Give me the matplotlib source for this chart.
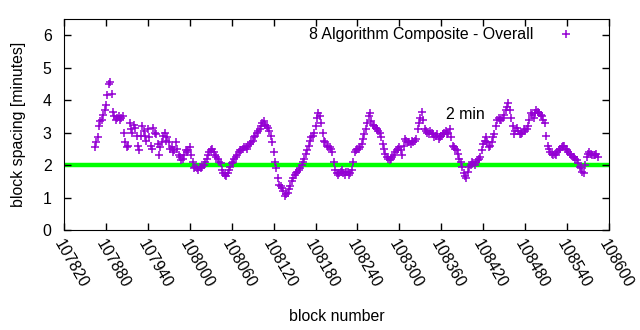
import numpy as np
import matplotlib.pyplot as plt

plt.rcParams['font.family'] = ['Liberation Sans', 'DejaVu Sans']

first_block = 107864
block_step = 4
spacing = [
    2.55, 2.85, 3.35, 3.55, 3.85, 4.5, 4.2, 3.5, 3.45, 3.4,
    3.5, 2.7, 2.6, 3.1, 3.25, 2.9, 2.45, 3.2, 2.9, 3.1,
    2.6, 3.15, 2.95, 2.3, 2.7, 3.0, 2.85, 2.5, 2.4, 2.7,
    2.3, 2.15, 2.3, 2.4, 2.55, 2.1, 1.95, 1.85, 1.9, 2.0,
    2.2, 2.4, 2.5, 2.3, 2.2, 2.05, 1.75, 1.65, 1.85, 2.05,
    2.2, 2.3, 2.45, 2.5, 2.55, 2.6, 2.7, 2.85, 3.0, 3.1,
    3.3, 3.25, 3.15, 2.9, 2.4, 1.9, 1.4, 1.3, 1.05, 1.15,
    1.35, 1.6, 1.75, 1.85, 2.0, 2.2, 2.45, 2.75, 2.9, 3.2,
    3.6, 3.3, 2.75, 2.6, 2.55, 2.4, 1.85, 1.7, 1.8, 1.75,
    1.8, 1.7, 1.85, 2.4, 2.5, 2.55, 2.8, 3.1, 3.5, 3.35,
    3.2, 3.1, 3.0, 2.65, 2.35, 2.2, 2.2, 2.3, 2.45, 2.55,
    2.3, 2.8, 2.7, 2.65, 2.7, 2.8, 3.3, 3.65, 3.1, 3.0,
    3.05, 2.95, 2.9, 2.8, 2.9, 3.0, 2.95, 3.1, 2.6, 2.5,
    2.35, 2.1, 1.75, 1.6, 1.95, 2.1, 2.0, 2.15, 2.25, 2.65,
    2.85, 2.55, 2.7, 2.95, 3.4, 3.4, 3.45, 3.7, 3.9, 3.45,
    2.95, 3.15, 2.95, 3.0, 3.05, 3.2, 3.6, 3.45, 3.7, 3.6,
    3.5, 3.3, 2.6, 2.4, 2.3, 2.3, 2.45, 2.55, 2.6, 2.45,
    2.35, 2.25, 2.2, 2.05, 1.9, 1.75, 2.25, 2.4, 2.3, 2.3,
    2.25,
]
# the blocks in between (2 blocks after each of the above)
spacing_mid = [
    2.7, 3.2, 3.4, 3.7, 4.15, 4.55, 3.65, 3.4, 3.5, 3.45,
    3.0, 2.55, 3.3, 3.0, 3.15, 2.6, 2.9, 3.05, 2.75, 2.85,
    2.5, 3.0, 2.65, 2.55, 2.9, 2.75, 2.7, 2.55, 2.45, 2.5,
    2.25, 2.2, 2.45, 2.45, 2.3, 1.9, 1.9, 1.95, 1.95, 2.1,
    2.3, 2.45, 2.4, 2.25, 2.1, 1.85, 1.7, 1.75, 1.95, 2.1,
    2.25, 2.4, 2.45, 2.55, 2.5, 2.65, 2.75, 2.9, 3.05, 3.2,
    3.35, 3.2, 3.05, 2.7, 2.1, 1.6, 1.35, 1.2, 1.1, 1.25,
    1.5, 1.7, 1.8, 1.9, 2.1, 2.35, 2.6, 2.85, 3.0, 3.45,
    3.5, 3.0, 2.7, 2.55, 2.5, 2.1, 1.75, 1.75, 1.85, 1.7,
    1.8, 1.75, 2.1, 2.45, 2.5, 2.65, 2.95, 3.3, 3.6, 3.25,
    3.15, 3.05, 2.85, 2.5, 2.25, 2.15, 2.25, 2.4, 2.5, 2.45,
    2.6, 2.75, 2.7, 2.75, 2.75, 3.1, 3.45, 3.4, 3.05, 2.95,
    3.0, 2.85, 2.95, 2.85, 2.95, 3.05, 3.0, 2.85, 2.55, 2.45,
    2.2, 1.95, 1.65, 1.8, 2.0, 2.05, 2.1, 2.2, 2.45, 2.75,
    2.7, 2.6, 2.85, 3.2, 3.45, 3.4, 3.55, 3.8, 3.7, 3.2,
    3.05, 3.05, 2.95, 3.1, 3.1, 3.4, 3.55, 3.6, 3.65, 3.55,
    3.4, 2.9, 2.5, 2.35, 2.35, 2.4, 2.5, 2.6, 2.5, 2.4,
    2.3, 2.25, 2.15, 1.95, 1.8, 2.0, 2.35, 2.35, 2.3, 2.35,
]
blocks = first_block + block_step * np.arange(len(spacing))
blocks_mid = first_block + block_step // 2 + block_step * np.arange(len(spacing_mid))

all_blocks = np.concatenate([blocks, blocks_mid])
all_spacing = np.concatenate([spacing, spacing_mid])

target = 2.0
xticks = list(range(107820, 108601, 60))
yticks = [0, 1, 2, 3, 4, 5, 6]
fs = 11.4

fig = plt.figure(figsize=(6.4, 3.3), dpi=100)
ax = fig.add_axes([0.1, 0.303, 0.8516, 0.6394])

ax.axhline(target, color='#00ff00', lw=3.2, zorder=1)
ax.plot(all_blocks, all_spacing, '+', color='#9400d3', ms=6, mew=1.1,
        label='8 Algorithm Composite - Overall', zorder=2)
ax.text(108394, 3.55, '2 min', ha='center', va='center', fontsize=fs)

ax.set_xlim(107820, 108600)
ax.set_ylim(0, 6.5)
ax.set_xticks(xticks)
ax.set_yticks(yticks)
ax.set_xticklabels([str(t) for t in xticks], rotation=-60, ha='left',
                   va='top', rotation_mode='anchor', fontsize=fs)
ax.tick_params(axis='y', labelsize=fs, pad=9)
ax.tick_params(axis='x', pad=5)
ax.tick_params(direction='in', top=True, right=True, length=5, width=1)
ax.set_xlabel('block number', fontsize=fs, labelpad=13)
ax.set_ylabel('block spacing [minutes]', fontsize=fs, labelpad=12)

leg = ax.legend(loc='upper right', frameon=False, markerfirst=False,
                fontsize=fs, handlelength=2.6, handletextpad=0.8,
                bbox_to_anchor=(0.977, 1.006), borderaxespad=0.2)

fig.savefig('out.png', dpi=100)
